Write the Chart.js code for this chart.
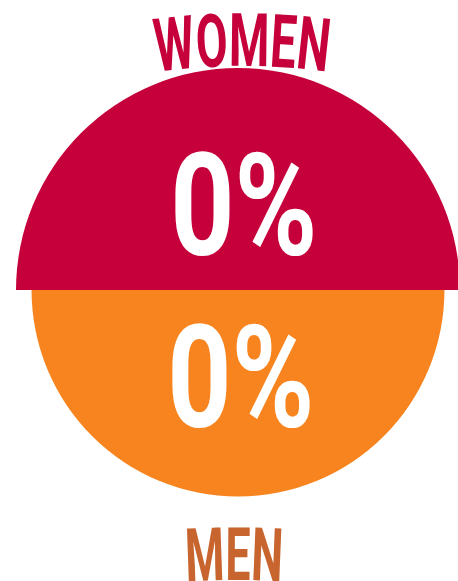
<!DOCTYPE html>
<html>
<head>
<meta charset="utf-8">
<script src="https://cdn.jsdelivr.net/npm/chart.js@4"></script>
<style>
  html, body { margin: 0; padding: 0; background: #fff; overflow: hidden; }
  /* the red half runs a few px past the right edge, so the canvas is wider than the window */
  #wrap { width: 458px; height: 581px; overflow: hidden; }
</style>
</head>
<body>
<div id="wrap"><canvas id="genderChart" width="464" height="581"></canvas></div>
<script>
const categories = ['WOMEN', 'MEN'];
const percentValues = [0, 0];
const areaValues = [100, 93];
const sliceColors = ['#C5003A', '#F7841F'];
const titleColors = ['#C5003A', '#C8652E'];

// squeezed text, Roboto is too wide so it gets scaled horizontally
function drawSqueezed(ctx, text, cx, baseline, inkWidth, font, color) {
    ctx.save();
    ctx.font = font;
    const m = ctx.measureText(text);
    const w = m.actualBoundingBoxLeft + m.actualBoundingBoxRight;
    const sx = inkWidth / w;
    ctx.translate(cx, baseline);
    ctx.scale(sx, 1);
    ctx.fillStyle = color;
    ctx.textAlign = 'left';
    ctx.textBaseline = 'alphabetic';
    ctx.fillText(text, -w / 2 + m.actualBoundingBoxLeft, 0);
    ctx.restore();
}

// letters placed on a wide arc (the titles bend a little)
function drawArcText(ctx, text, cx, baseline, radius, totalWidth, font, color) {
    ctx.save();
    ctx.font = font;
    const widths = [...text].map(ch => ctx.measureText(ch).width);
    const sum = widths.reduce((a, b) => a + b, 0);
    const sx = totalWidth / sum;
    const cy = baseline + radius;
    ctx.fillStyle = color;
    ctx.textAlign = 'center';
    ctx.textBaseline = 'alphabetic';
    let pos = -totalWidth / 2;
    [...text].forEach((ch, i) => {
        const mid = pos + widths[i] * sx / 2;
        const a = mid / radius;
        ctx.save();
        ctx.translate(cx + radius * Math.sin(a), cy - radius * Math.cos(a));
        ctx.rotate(a);
        ctx.scale(sx, 1);
        ctx.fillText(ch, 0, 0);
        ctx.restore();
        pos += widths[i] * sx;
    });
    ctx.restore();
}

const labelPlugin = {
    id: 'halfLabels',
    afterDraw(chart) {
        const ctx = chart.ctx;
        const arcs = chart.getDatasetMeta(0).data;
        const top = arcs[0], bottom = arcs[1];

        drawArcText(ctx, categories[0], 242, 66, 640, 171, 'bold 74px Roboto', titleColors[0]);
        drawArcText(ctx, categories[1], 234, 580, 800, 96, 'bold 74px Roboto', titleColors[1]);

        drawSqueezed(ctx, percentValues[0] + '%', top.x + 6, top.y - 35, 138, 'bold 143px Roboto', '#ffffff');
        drawSqueezed(ctx, percentValues[1] + '%', bottom.x + 3, bottom.y + 137, 138, 'bold 143px Roboto', '#ffffff');
    }
};

new Chart(document.getElementById('genderChart'), {
    type: 'polarArea',
    data: {
        labels: categories,
        datasets: [{
            data: areaValues,
            backgroundColor: sliceColors,
            borderWidth: 0
        }]
    },
    options: {
        responsive: false,
        animation: false,
        layout: { padding: { left: 16, right: 4, top: 68, bottom: 69 } },
        scales: {
            r: { display: false, min: 0, max: 100, startAngle: -90 }
        },
        plugins: {
            legend: { display: false },
            tooltip: { enabled: false }
        }
    },
    plugins: [labelPlugin]
});
</script>
</body>
</html>
